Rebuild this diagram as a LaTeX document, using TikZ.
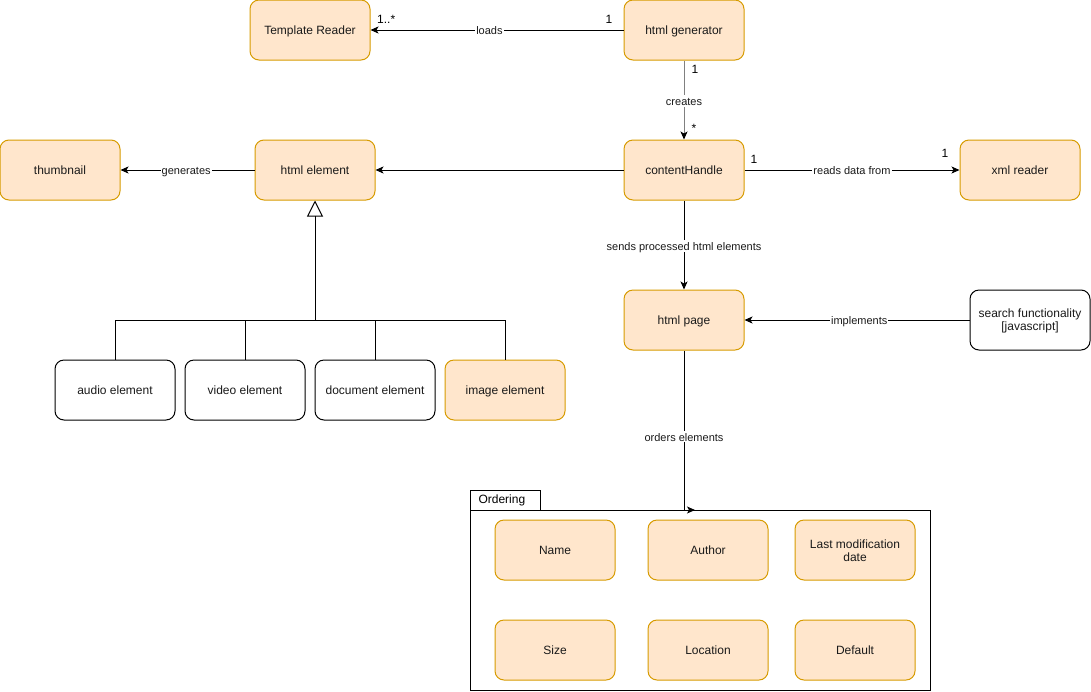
\documentclass[tikz,border=0pt]{standalone}
\usepackage{fontspec}
\setmainfont{Liberation Sans}
\usetikzlibrary{arrows.meta}
\definecolor{boxfill}{HTML}{FFE6CC}
\definecolor{boxline}{HTML}{D79B00}
\definecolor{txt}{HTML}{1A1A1A}
\definecolor{grayline}{HTML}{808080}
\tikzset{
  box/.style={draw=boxline, fill=boxfill, rounded corners=9pt, line width=1pt,
    minimum width=120pt, minimum height=60pt, align=center, text=txt,
    font=\fontsize{12pt}{14pt}\selectfont, inner sep=2pt},
  oneline/.style={text height=10pt, text depth=2pt},
  plainbox/.style={box, draw=black, fill=white},
  conn/.style={line width=1pt, -{Stealth[length=8pt,width=7pt,inset=2pt]}},
  lbl/.style={fill=white, inner sep=1pt, text=txt, text height=9.5pt, text depth=0pt,
    font=\fontsize{11pt}{13pt}\selectfont},
  mult/.style={inner sep=0pt, text=black, font=\fontsize{12pt}{14pt}\selectfont},
  inherit/.style={line width=1pt, -{Triangle[open,length=16pt,width=16pt]}},
}
\begin{document}
\begin{tikzpicture}[x=1pt,y=-1pt]
\useasboundingbox (0,0) rectangle (1091,691);

% upper row
\node[box, oneline] (tpl) at (310,30) {Template Reader};
\node[box, oneline] (gen) at (684,30) {html generator};

% middle row
\node[box, oneline] (thumb) at (60,170) {thumbnail};
\node[box, oneline] (elem) at (315,170) {html element};
\node[box, oneline] (handle) at (684,170) {contentHandle};
\node[box, oneline] (xml) at (1020,170) {xml reader};

% page and script
\node[box, oneline] (page) at (684,320) {html page};
\node[plainbox] (search) at (1030,320) {\rule{0pt}{11pt}search functionality\\[-1pt][javascript]};

% element subtypes
\node[plainbox, oneline] (audio) at (115,390) {audio element};
\node[plainbox, oneline] (video) at (245,390) {video element};
\node[plainbox, oneline] (doc) at (375,390) {document element};
\node[box, oneline] (image) at (505,390) {image element};

% ordering package
\node[draw, line width=1pt, anchor=north west, minimum width=70pt, minimum height=20pt,
  text width=54pt, inner xsep=8pt, inner ysep=3pt, align=left,
  font=\fontsize{12pt}{14pt}\selectfont]
  (pkgtab) at (470,490) {Ordering};
\node[draw, line width=1pt, anchor=north west, minimum width=460pt, minimum height=180pt]
  (pkg) at (470,510) {};

\node[box, oneline] (oname) at (555,550) {Name};
\node[box, oneline] (oauthor) at (708,550) {Author};
\node[box] (odate) at (855,550) {\rule{0pt}{11pt}Last modification\\[-1pt]date};
\node[box, oneline] (osize) at (555,650) {Size};
\node[box, oneline] (oloc) at (708,650) {Location};
\node[box, oneline] (odefault) at (855,650) {Default};

% associations
\draw[conn] (gen) -- node[lbl, pos=0.53] {loads} (tpl);
\node[mult, anchor=west] (m1) at (377,19) {1..*};
\node[mult] (m2) at (609,19) {1};

\draw[line width=1pt, draw=grayline, -{Stealth[length=8pt,width=7pt,inset=2pt,color=black]}]
  (gen) -- node[lbl, pos=0.51] {creates} (handle);
\node[mult] (m3) at (695,69) {1};
\node[mult] (m4) at (694,128) {*};

\draw[conn] (handle) -- (elem);
\draw[conn] (elem) -- node[lbl, pos=0.51] {generates} (thumb);

\draw[conn] (handle) -- node[lbl, pos=0.5] {reads data from} (xml);
\node[mult] (m5) at (754,159) {1};
\node[mult] (m6) at (945,153) {1};

\draw[conn] (handle) -- node[lbl, pos=0.51] {sends processed html elements} (page);
\draw[conn] (search) -- node[lbl, pos=0.49] {implements} (page);

\coordinate (ordend) at (695,510);
\draw[conn] (page.south) |- node[lbl, pos=0.27] {orders elements} (ordend);

% generalisation of html element
\coordinate (hub) at (315,320);
\draw[line width=1pt] (audio.north) |- (hub);
\draw[line width=1pt] (image.north) |- (hub);
\draw[line width=1pt] (video.north) -- (video.north |- hub);
\draw[line width=1pt] (doc.north) -- (doc.north |- hub);
\draw[inherit] (hub) -- (elem.south);
\end{tikzpicture}
\end{document}
